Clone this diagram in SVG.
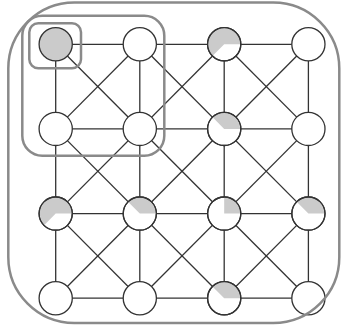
<svg xmlns="http://www.w3.org/2000/svg" width="342" height="329" viewBox="0 0 342 329">
<style>
.e{stroke:#333;stroke-width:1.3;fill:none}
.n{fill:#fff;stroke:#333;stroke-width:1.3}
.s{fill:#cbcbcb;stroke:none}
.o{fill:none;stroke:#8a8a8a;stroke-width:2.5}
.r{fill:none;stroke:#333;stroke-width:1.3}
</style>
<rect width="342" height="329" fill="#fff"/>
<g id="connectors">
<line class="e" x1="55.7" y1="44.3" x2="308.4" y2="44.3"/>
<line class="e" x1="55.7" y1="128.9" x2="308.4" y2="128.9"/>
<line class="e" x1="55.7" y1="213.6" x2="308.4" y2="213.6"/>
<line class="e" x1="55.7" y1="298.2" x2="308.4" y2="298.2"/>
<line class="e" x1="55.7" y1="44.3" x2="55.7" y2="298.2"/>
<line class="e" x1="139.8" y1="44.3" x2="139.8" y2="298.2"/>
<line class="e" x1="224.2" y1="44.3" x2="224.2" y2="298.2"/>
<line class="e" x1="308.4" y1="44.3" x2="308.4" y2="298.2"/>
<line class="e" x1="55.7" y1="44.3" x2="308.4" y2="298.2"/>
<line class="e" x1="139.8" y1="44.3" x2="308.4" y2="213.6"/>
<line class="e" x1="224.2" y1="44.3" x2="308.4" y2="128.9"/>
<line class="e" x1="55.7" y1="128.9" x2="224.2" y2="298.2"/>
<line class="e" x1="55.7" y1="213.6" x2="139.8" y2="298.2"/>
<line class="e" x1="308.4" y1="44.3" x2="55.7" y2="298.2"/>
<line class="e" x1="224.2" y1="44.3" x2="55.7" y2="213.6"/>
<line class="e" x1="139.8" y1="44.3" x2="55.7" y2="128.9"/>
<line class="e" x1="308.4" y1="128.9" x2="139.8" y2="298.2"/>
<line class="e" x1="308.4" y1="213.6" x2="224.2" y2="298.2"/>
</g>
<g id="n00"><circle cx="55.7" cy="44.3" r="16.6" fill="#cbcbcb" stroke="#333" stroke-width="1.3"/></g>
<g id="n10"><circle class="n" cx="139.8" cy="44.3" r="16.6"/></g>
<g id="n20"><circle class="n" cx="224.2" cy="44.3" r="16.6"/><path class="s" d="M224.2 44.3 L240.2 44.3 A16 16 0 1 0 212.89 55.61 Z"/><circle class="r" cx="224.2" cy="44.3" r="16.6"/></g>
<g id="n30"><circle class="n" cx="308.4" cy="44.3" r="16.6"/></g>
<g id="n01"><circle class="n" cx="55.7" cy="128.9" r="16.6"/></g>
<g id="n11"><circle class="n" cx="139.8" cy="128.9" r="16.6"/></g>
<g id="n21"><circle class="n" cx="224.2" cy="128.9" r="16.6"/><path class="s" d="M224.2 128.9 L240.2 128.9 A16 16 0 0 0 212.89 117.59 Z"/><circle class="r" cx="224.2" cy="128.9" r="16.6"/></g>
<g id="n31"><circle class="n" cx="308.4" cy="128.9" r="16.6"/></g>
<g id="n02"><circle class="n" cx="55.7" cy="213.6" r="16.6"/><path class="s" d="M55.7 213.6 L71.7 213.6 A16 16 0 1 0 44.39 224.91 Z"/><circle class="r" cx="55.7" cy="213.6" r="16.6"/></g>
<g id="n12"><circle class="n" cx="139.8" cy="213.6" r="16.6"/><path class="s" d="M139.8 213.6 L155.8 213.6 A16 16 0 0 0 128.49 202.29 Z"/><circle class="r" cx="139.8" cy="213.6" r="16.6"/></g>
<g id="n22"><circle class="n" cx="224.2" cy="213.6" r="16.6"/><path class="s" d="M224.2 213.6 L240.2 213.6 A16 16 0 0 0 224.2 197.6 Z"/><circle class="r" cx="224.2" cy="213.6" r="16.6"/></g>
<g id="n32"><circle class="n" cx="308.4" cy="213.6" r="16.6"/><path class="s" d="M308.4 213.6 L324.4 213.6 A16 16 0 0 0 297.09 202.29 Z"/><circle class="r" cx="308.4" cy="213.6" r="16.6"/></g>
<g id="n03"><circle class="n" cx="55.7" cy="298.2" r="16.6"/></g>
<g id="n13"><circle class="n" cx="139.8" cy="298.2" r="16.6"/></g>
<g id="n23"><circle class="n" cx="224.2" cy="298.2" r="16.6"/><path class="s" d="M224.2 298.2 L240.2 298.2 A16 16 0 0 0 212.89 286.89 Z"/><circle class="r" cx="224.2" cy="298.2" r="16.6"/></g>
<g id="n33"><circle class="n" cx="308.4" cy="298.2" r="16.6"/></g>
<g id="groups">
<rect id="outer" class="o" x="8.3" y="2.5" width="331" height="320.5" rx="66" ry="66"/>
<rect id="middle" class="o" x="22.3" y="15.7" width="142" height="140" rx="20" ry="20"/>
<rect id="inner" class="o" x="29.3" y="23.3" width="51.7" height="45" rx="9" ry="9"/>
</g>
</svg>
